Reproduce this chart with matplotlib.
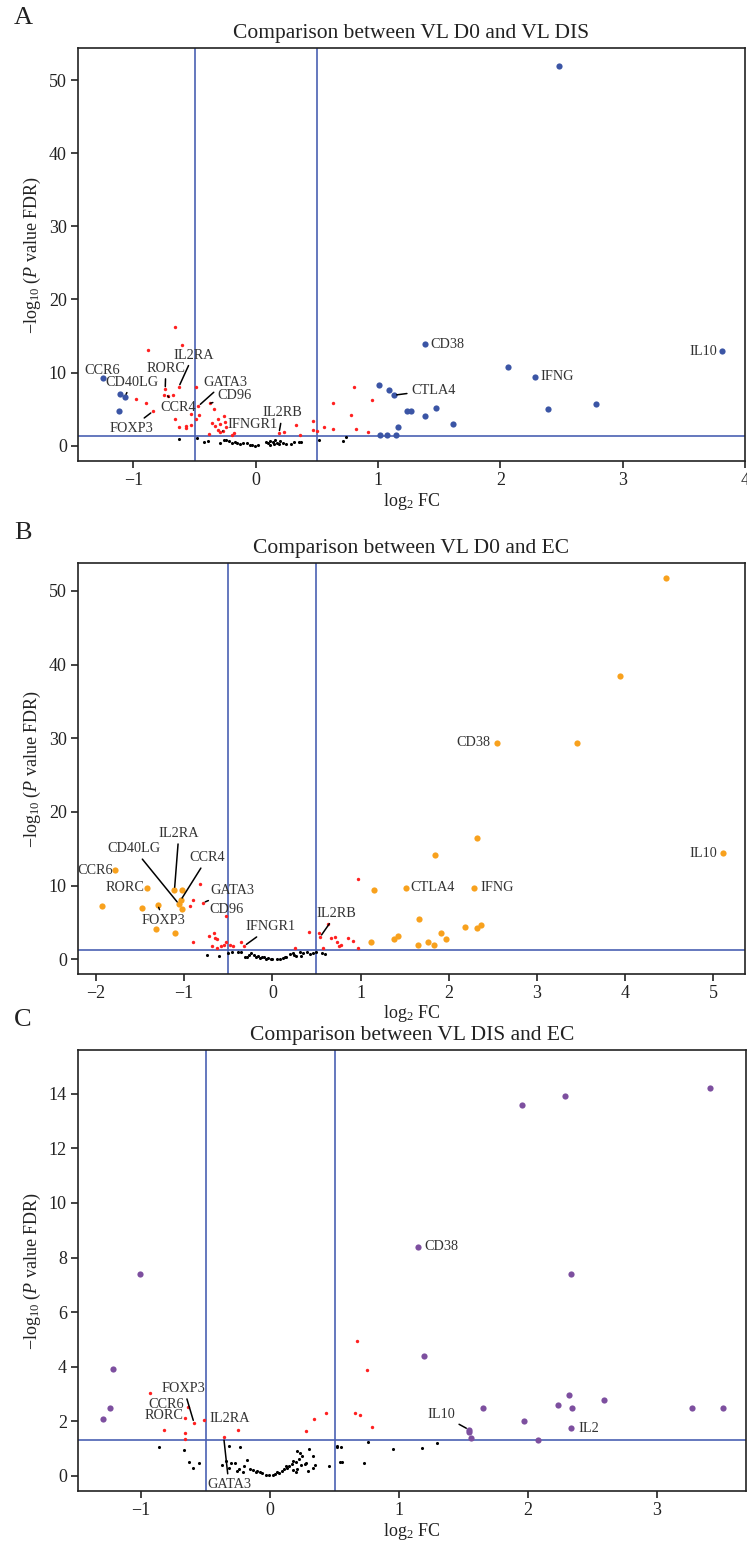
import matplotlib
matplotlib.use("Agg")
import matplotlib.pyplot as plt

plt.rcParams['font.family'] = ['Liberation Serif', 'DejaVu Serif']
plt.rcParams['mathtext.fontset'] = 'custom'
plt.rcParams['mathtext.rm'] = 'Liberation Serif'
plt.rcParams['mathtext.it'] = 'Liberation Serif:italic'

# ---------------- data ----------------
# panel A: VL D0 vs VL DIS
A_sig_x = [-1.25, -1.11, -1.07, -1.12, 1.38, 3.81, 2.06, 2.28, 1.01, 1.09, 1.13, 1.24,
           1.27, 1.47, 1.38, 2.39, 2.78, 1.61, 1.16, 1.02, 1.07, 1.15, 2.48]
A_sig_y = [9.2, 7.1, 6.7, 4.7, 13.9, 12.9, 10.7, 9.4, 8.3, 7.6, 6.9, 4.7,
           4.8, 5.2, 4.0, 5.0, 5.7, 3.0, 2.5, 1.4, 1.5, 1.5, 52.0]
A_red_x = [-0.66, -0.88, -0.60, -0.63, -0.74, -0.75, -0.72, -0.68, -0.98, -0.90, -0.84,
           -0.49, -0.47, -0.37, -0.34, -0.53, -0.49, -0.46, -0.66, -0.63, -0.57, -0.57,
           -0.53, -0.36, -0.31, -0.26, -0.33, -0.29, -0.25, -0.31, -0.27, -0.24, -0.38,
           -0.18, -0.19, -0.29, 0.19, 0.23, 0.33, 0.36, 0.47, 0.47, 0.50, 0.56, 0.63,
           0.63, 0.80, 0.78, 0.82, 0.95, 0.92]
A_red_y = [16.3, 13.1, 13.8, 8.0, 7.7, 6.9, 6.8, 6.9, 6.4, 5.8, 4.7,
           8.0, 5.4, 5.8, 5.0, 4.3, 3.6, 4.2, 3.6, 2.6, 2.7, 2.4,
           2.8, 3.1, 3.6, 4.1, 2.7, 3.0, 3.2, 2.1, 2.0, 2.5, 1.6,
           1.7, 1.4, 1.8, 1.7, 1.8, 2.8, 1.5, 3.4, 2.1, 2.0, 2.6, 2.3,
           5.9, 8.0, 4.2, 2.3, 6.2, 1.8]
A_ns_x = [-0.63, -0.48, -0.42, -0.39, -0.29, -0.26, -0.24, -0.22, -0.19, -0.17, -0.15,
          -0.13, -0.10, -0.07, -0.05, -0.03, -0.01, 0.02, 0.10, 0.12, 0.14, 0.15, 0.17,
          0.19, 0.22, 0.12, 0.16, 0.29, 0.31, 0.35, 0.37, 0.52, 0.71, 0.74, 0.08, 0.20, 0.25]
A_ns_y = [0.9, 1.1, 0.45, 0.6, 0.3, 0.8, 0.8, 0.6, 0.3, 0.55, 0.3,
          0.2, 0.4, 0.3, 0.15, 0.05, 0.0, 0.05, 0.3, 0.6, 0.45, 0.2, 0.3,
          0.25, 0.4, 0.15, 0.8, 0.25, 0.45, 0.55, 0.55, 0.8, 0.7, 1.2, 0.5, 0.7, 0.2]

# panel B: VL D0 vs EC
B_sig_x = [-1.79, -1.42, -1.93, -1.48, -1.30, -1.32, -1.10, -1.11, -1.03, -1.04, -1.06,
           -1.02, 4.46, 3.94, 2.55, 3.46, 2.32, 1.84, 5.11, 1.15, 1.52, 2.29, 1.66, 1.12,
           1.38, 1.42, 1.65, 1.77, 1.83, 1.91, 1.97, 2.18, 2.32, 2.37]
B_sig_y = [12.1, 9.7, 7.2, 6.9, 7.4, 4.1, 3.6, 9.4, 9.4, 8.0, 7.5,
           6.8, 51.8, 38.4, 29.4, 29.4, 16.5, 14.2, 14.4, 9.4, 9.7, 9.7, 5.5, 2.3,
           2.8, 3.1, 1.9, 2.3, 2.0, 3.5, 2.7, 4.4, 4.2, 4.7]
B_red_x = [-0.82, -0.90, -0.93, -0.79, -0.53, -0.72, -0.66, -0.65, -0.63, -0.69, -0.58,
           -0.55, -0.52, -0.48, -0.45, -0.90, -0.63, -0.35, -0.32, 0.42, 0.53, 0.54,
           0.63, 0.58, 0.26, 0.66, 0.71, 0.73, 0.76, 0.78, 0.86, 0.92, 0.97, 0.97]
B_red_y = [10.2, 8.1, 7.3, 7.65, 5.9, 3.2, 3.5, 2.85, 2.8, 1.85, 1.85,
           2.0, 2.3, 2.0, 1.8, 2.3, 1.5, 2.4, 1.8, 3.7, 3.5, 3.0,
           4.8, 1.5, 1.5, 2.9, 3.0, 2.3, 1.8, 2.0, 2.85, 2.5, 1.5, 10.9]
B_ns_x = [-0.74, -0.60, -0.50, -0.46, -0.39, -0.35, -0.31, -0.29, -0.26, -0.24, -0.21,
          -0.19, -0.16, -0.14, -0.10, -0.07, -0.05, -0.01, 0.09, 0.12, 0.16, 0.20, 0.23,
          0.27, 0.31, 0.35, 0.39, 0.43, 0.46, 0.50, 0.56, 0.60, 0.00, 0.05, -0.12, 0.14,
          0.25, 0.33]
B_ns_y = [0.6, 0.45, 0.8, 1.0, 1.05, 0.95, 0.35, 0.25, 0.6, 0.8, 0.6,
          0.25, 0.45, 0.15, 0.27, 0.0, 0.15, 0.0, 0.05, 0.15, 0.35, 0.65, 0.8,
          0.45, 0.95, 0.8, 1.05, 0.65, 0.8, 1.0, 0.8, 0.7, 0.1, 0.05, 0.3, 0.3,
          0.6, 0.5]

# panel C: VL DIS vs EC
C_sig_x = [3.41, 1.95, 2.29, 1.15, -1.01, 2.33, 1.19, -1.22, -1.30, -1.24, 1.65, 1.54,
           1.54, 1.56, 1.97, 2.08, 2.23, 2.32, 2.34, 2.33, 2.59, 3.27, 3.51]
C_sig_y = [14.2, 13.6, 13.9, 8.4, 7.4, 7.4, 4.4, 3.9, 2.1, 2.5, 2.5, 1.7,
           1.6, 1.4, 2.0, 1.3, 2.6, 2.95, 2.5, 1.75, 2.8, 2.5, 2.5]
C_red_x = [0.67, 0.75, -0.93, -0.59, -0.64, -0.66, -0.51, -0.82, -0.66, -0.66, -0.36,
           -0.25, 0.28, 0.34, 0.43, 0.66, 0.70, 0.79]
C_red_y = [4.96, 3.89, 3.05, 1.94, 2.52, 2.13, 2.06, 1.69, 1.59, 1.36, 1.41,
           1.69, 1.63, 2.10, 2.29, 2.32, 2.25, 1.81]
C_ns_x = [-0.86, -0.67, -0.63, -0.60, -0.55, -0.32, -0.23, -0.18, -0.34, -0.30, -0.27,
          -0.32, -0.26, -0.24, -0.21, -0.16, -0.13, -0.11, -0.10, -0.08, -0.06, -0.03,
          -0.01, 0.02, 0.04, 0.07, 0.09, 0.11, 0.13, 0.15, 0.17, 0.18, 0.20, 0.22, 0.23,
          0.25, 0.28, 0.30, 0.33, 0.33, 0.21, 0.18, 0.20, 0.21, 0.24, 0.27, 0.46, 0.52,
          0.55, 0.54, 0.56, 0.73, 0.76, 0.95, 1.18, 1.29, 0.52, -0.37, -0.20, 0.05, 0.12,
          0.29, 0.35]
C_ns_y = [1.07, 0.94, 0.52, 0.28, 0.47, 1.09, 1.05, 0.57, 0.54, 0.47, 0.46,
          0.31, 0.19, 0.25, 0.15, 0.27, 0.21, 0.15, 0.19, 0.13, 0.10, 0.05,
          0.03, 0.04, 0.06, 0.10, 0.19, 0.25, 0.31, 0.37, 0.43, 0.56, 0.52, 0.62, 0.83,
          0.72, 0.47, 0.99, 0.74, 0.31, 0.93, 0.21, 0.15, 0.25, 0.42, 0.43, 0.37, 1.11,
          1.05, 0.50, 0.52, 0.47, 1.26, 0.99, 1.03, 1.21, 1.07, 0.40, 0.35, 0.15, 0.35,
          0.20, 0.40]

# labelled genes: (gene, point x, point y)
A_genes = [("CCR6", -1.25, 9.2), ("CD40LG", -1.07, 6.7), ("RORC", -0.74, 7.7),
           ("IL2RA", -0.63, 8.0), ("GATA3", -0.47, 5.4), ("CD96", -0.37, 5.8),
           ("CCR4", -0.72, 6.8), ("FOXP3", -0.84, 4.7), ("IFNGR1", -0.27, 2.0),
           ("IL2RB", 0.19, 1.7), ("CD38", 1.38, 13.9), ("IL10", 3.81, 12.9),
           ("IFNG", 2.28, 9.4), ("CTLA4", 1.13, 6.9)]
B_genes = [("CCR6", -1.79, 12.1), ("RORC", -1.42, 9.7), ("CD40LG", -1.06, 7.5),
           ("IL2RA", -1.11, 9.4), ("CCR4", -1.04, 8.0), ("GATA3", -0.79, 7.65),
           ("CD96", -0.53, 5.9), ("FOXP3", -1.30, 7.4), ("IFNGR1", -0.32, 1.8),
           ("IL2RB", 0.54, 3.0), ("CD38", 2.55, 29.4), ("CTLA4", 1.52, 9.7),
           ("IFNG", 2.29, 9.7), ("IL10", 5.11, 14.4)]
C_genes = [("FOXP3", -0.59, 1.94), ("CCR6", -0.64, 2.52), ("RORC", -0.66, 2.13),
           ("IL2RA", -0.51, 2.06), ("GATA3", -0.36, 1.41), ("IL10", 1.54, 1.7),
           ("IL2", 2.33, 1.75), ("CD38", 1.15, 8.4)]

# ---------------- layout ----------------
# text placement per gene: (text x, text y, ha, leader line)
A_text = {"CCR6": (-1.257, 10.3, 'center', False), "CD40LG": (-1.01, 8.7, 'center', True),
          "RORC": (-0.735, 10.6, 'center', True), "IL2RA": (-0.51, 12.4, 'center', True),
          "GATA3": (-0.25, 8.7, 'center', True), "CD96": (-0.177, 6.8, 'center', True),
          "CCR4": (-0.632, 5.2, 'center', True), "FOXP3": (-1.02, 2.4, 'center', True),
          "IFNGR1": (-0.03, 2.95, 'center', True), "IL2RB": (0.22, 4.5, 'center', True),
          "CD38": (1.43, 13.9, 'left', False), "IL10": (3.775, 12.9, 'right', False),
          "IFNG": (2.33, 9.4, 'left', False), "CTLA4": (1.27, 7.6, 'left', True)}
B_text = {"CCR6": (-1.81, 12.1, 'right', False), "RORC": (-1.45, 9.7, 'right', False),
          "CD40LG": (-1.57, 15.0, 'center', True), "IL2RA": (-1.06, 17.1, 'center', True),
          "CCR4": (-0.736, 13.8, 'center', True), "GATA3": (-0.456, 9.3, 'center', True),
          "CD96": (-0.52, 6.8, 'center', False), "FOXP3": (-1.235, 5.3, 'center', True),
          "IFNGR1": (-0.02, 4.4, 'center', True), "IL2RB": (0.73, 6.25, 'center', True),
          "CD38": (2.47, 29.4, 'right', False), "CTLA4": (1.57, 9.7, 'left', False),
          "IFNG": (2.355, 9.7, 'left', False), "IL10": (5.05, 14.4, 'right', False)}
C_text = {"FOXP3": (-0.67, 3.21, 'center', True), "CCR6": (-0.67, 2.62, 'right', False),
          "RORC": (-0.67, 2.22, 'right', False), "IL2RA": (-0.47, 2.1, 'left', False),
          "GATA3": (-0.32, -0.31, 'center', True), "IL10": (1.434, 2.25, 'right', True),
          "IL2": (2.394, 1.75, 'left', False), "CD38": (1.194, 8.4, 'left', False)}

LINE = '#4a61b3'

panels = [
    dict(letter='A', title='Comparison between VL D0 and VL DIS',
         sx=A_sig_x, sy=A_sig_y, rx=A_red_x, ry=A_red_y, nx=A_ns_x, ny=A_ns_y,
         genes=A_genes, text=A_text, color='#3b55a5',
         xlim=(-1.453, 3.99), ylim=(-2.1, 54.4), xticks=range(-1, 5), yticks=range(0, 51, 10),
         pos=[78 / 747, 1 - 461 / 1544, 667 / 747, 413 / 1544]),
    dict(letter='B', title='Comparison between VL D0 and EC',
         sx=B_sig_x, sy=B_sig_y, rx=B_red_x, ry=B_red_y, nx=B_ns_x, ny=B_ns_y,
         genes=B_genes, text=B_text, color='#f8a11d',
         xlim=(-2.204, 5.36), ylim=(-2.0, 53.8), xticks=range(-2, 6), yticks=range(0, 51, 10),
         pos=[78 / 747, 1 - 974 / 1544, 667 / 747, 411 / 1544]),
    dict(letter='C', title='Comparison between VL DIS and EC',
         sx=C_sig_x, sy=C_sig_y, rx=C_red_x, ry=C_red_y, nx=C_ns_x, ny=C_ns_y,
         genes=C_genes, text=C_text, color='#7d4f9f',
         xlim=(-1.49, 3.69), ylim=(-0.55, 15.6), xticks=range(-1, 4), yticks=range(0, 15, 2),
         pos=[78 / 747, 1 - 1491 / 1544, 668 / 747, 441 / 1544]),
]

fig = plt.figure(figsize=(7.47, 15.44), dpi=100)

for p in panels:
    ax = fig.add_axes(p['pos'])
    ax.scatter(p['nx'], p['ny'], s=5, color='black', linewidths=0, zorder=3)
    ax.scatter(p['rx'], p['ry'], s=6, color='#ff2020', linewidths=0, zorder=3)
    ax.scatter(p['sx'], p['sy'], s=20, color=p['color'], linewidths=0, zorder=3)
    ax.axvline(-0.5, color=LINE, lw=1.2, zorder=2)
    ax.axvline(0.5, color=LINE, lw=1.2, zorder=2)
    ax.axhline(1.301, color=LINE, lw=1.2, zorder=2)
    ax.set_xlim(p['xlim'])
    ax.set_ylim(p['ylim'])
    ax.set_xticks(list(p['xticks']))
    ax.set_yticks(list(p['yticks']))
    ax.tick_params(labelsize=13, length=5, width=1.2, colors='#222222', direction='out',
                   pad=3)
    for sp in ax.spines.values():
        sp.set_linewidth(1.2)
        sp.set_color('#222222')
    ax.set_xlabel(r'log$_2$ FC', fontsize=13, color='#222222', labelpad=1)
    ax.set_ylabel(r'$-$log$_{10}$ ($P$ value FDR)', fontsize=13, color='#222222')
    ax.set_title(p['title'], fontsize=15.5, color='#222222', pad=7)

    for gene, gx, gy in p['genes']:
        tx, ty, ha, leader = p['text'][gene]
        props = None
        if leader:
            props = dict(arrowstyle='-', color='black', lw=1.1, shrinkA=1, shrinkB=2)
        ax.annotate(gene, xy=(gx, gy), xytext=(tx, ty), ha=ha, va='center',
                    fontsize=10.3, color='#333333', arrowprops=props, zorder=4,
                    annotation_clip=False)

    top = p['pos'][1] + p['pos'][3]
    fig.text(14 / 747, top + 30 / 1544, p['letter'], fontsize=19, color='#222222',
             ha='left', va='center')

fig.savefig('out.png', dpi=100)
